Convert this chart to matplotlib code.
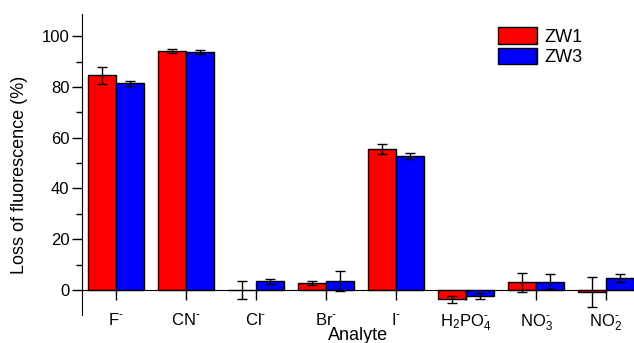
import numpy as np
import matplotlib
matplotlib.use("Agg")
import matplotlib.pyplot as plt

plt.rcParams["font.family"] = ["Liberation Sans", "DejaVu Sans"]
plt.rcParams["mathtext.fontset"] = "custom"
plt.rcParams["mathtext.rm"] = "Liberation Sans"
plt.rcParams["mathtext.it"] = "Liberation Sans"
plt.rcParams["mathtext.default"] = "regular"

# data
analytes = [r"F$^{\text{-}}$", r"CN$^{\text{-}}$", r"Cl$^{\text{-}}$", r"Br$^{\text{-}}$",
            r"I$^{\text{-}}$", r"H$_2$PO$_4^{\text{-}}$", r"NO$_3^{\text{-}}$",
            r"NO$_2^{\text{-}}$"]
zw1 = [84.5, 94.3, 0.0, 2.8, 55.4, -3.7, 3.0, -0.7]
zw1_err = [3.3, 0.8, 3.5, 0.7, 2.0, 1.3, 3.9, 6.0]
zw3 = [81.4, 93.7, 3.5, 3.5, 52.9, -2.4, 3.3, 4.7]
zw3_err = [1.0, 0.8, 1.0, 4.0, 1.2, 1.3, 3.0, 1.6]

x = np.arange(len(analytes))
w = 0.4

fig = plt.figure(figsize=(6.34, 3.43), dpi=100)
ax = fig.add_axes([0.1293, 0.0816, 0.8707, 0.8775])

err_kw = dict(ecolor="black", elinewidth=1, capsize=3.5, capthick=1)
ax.bar(x - w / 2, zw1, w, yerr=zw1_err, color="#ff0000", edgecolor="black",
       linewidth=1, label="ZW1", error_kw=err_kw)
ax.bar(x + w / 2, zw3, w, yerr=zw3_err, color="#0000ff", edgecolor="black",
       linewidth=1, label="ZW3", error_kw=err_kw)

ax.set_xlim(-0.486, 7.4)
ax.set_ylim(-9.84, 108.7)

ax.spines["top"].set_visible(False)
ax.spines["right"].set_visible(False)
ax.spines["bottom"].set_position(("data", 0))

ax.set_xticks(x)
ax.set_xticklabels(analytes)
ax.set_yticks([0, 20, 40, 60, 80, 100])
ax.set_yticks([10, 30, 50, 70, 90], minor=True)
ax.tick_params(axis="x", direction="out", length=7, width=1, pad=9, labelsize=12)
ax.tick_params(axis="y", which="major", direction="out", length=7, width=1, pad=2, labelsize=12)
ax.tick_params(axis="y", which="minor", direction="out", length=4, width=1)

ax.set_xlabel("Analyte", fontsize=13)
ax.xaxis.set_label_coords(0.5, -0.04)
ax.set_ylabel("Loss of fluorescence (%)", fontsize=13)
ax.yaxis.set_label_coords(-0.097, 0.467)

ax.legend(loc="upper left", bbox_to_anchor=(0.74, 0.98), frameon=False, fontsize=13,
          handlelength=2.2, handleheight=1.05, labelspacing=0.1, handletextpad=0.4,
          borderaxespad=0)

fig.savefig("out.png", dpi=100)
